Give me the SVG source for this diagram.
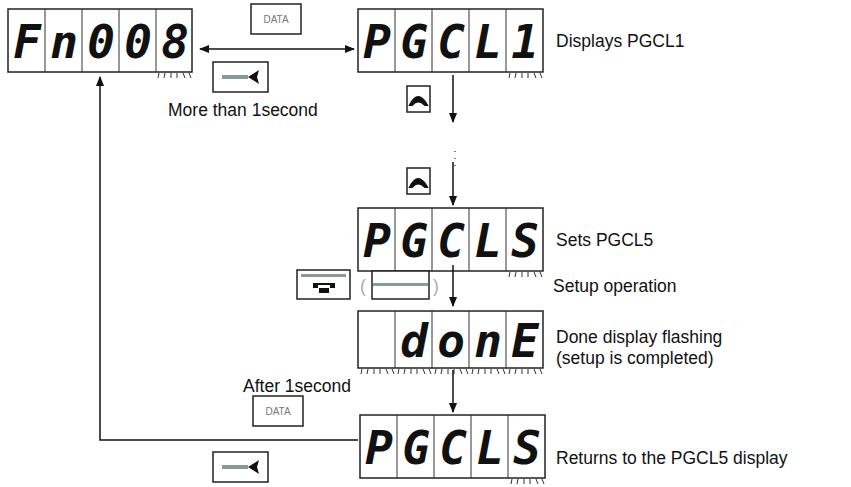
<svg xmlns="http://www.w3.org/2000/svg" width="851" height="487" viewBox="0 0 851 487">
<style>
.cell{fill:#fff;stroke:#222;stroke-width:1.5}
.seg{font-family:"DejaVu Sans Mono",monospace;font-weight:bold;font-style:italic;font-size:46px;fill:#111;text-anchor:middle}
.lbl{font-family:"Liberation Sans",Arial,sans-serif;font-size:17.5px;fill:#111}
.btn{fill:#fff;stroke:#222;stroke-width:1.5}
.dt{font-family:"Liberation Sans",Arial,sans-serif;font-size:10px;fill:#777;text-anchor:middle}
.ln{stroke:#111;stroke-width:1.5;fill:none}
.tk{stroke:#333;stroke-width:1}
</style>
<defs>
<marker id="ah" viewBox="0 0 10 10" refX="9" refY="5" markerWidth="7" markerHeight="7" orient="auto-start-reverse"><path d="M0,1L10,5L0,9z" fill="#111"/></marker>
<g id="ticks"><path class="tk" d="M2,0l-1,5M8,0l-1,5M14,0v5M20,0v5M26,0l2,5M32,0l2,5"/></g>
<g id="ent"><rect class="btn" x="0" y="0" width="55" height="30"/><rect x="9" y="13" width="26" height="4" fill="#8a9a9a"/><path d="M35,15L46,8L44,15L46,22z" fill="#111"/></g>
<g id="up"><rect class="btn" x="0" y="0" width="23" height="26"/><path d="M3,19Q11,3 20,19L18,19Q11,12 5,19z" fill="#111" stroke="#111" stroke-width="2"/></g>
<g id="data"><rect class="btn" x="0" y="0" width="50" height="30"/><text class="dt" x="25" y="19">DATA</text></g>
</defs>
<g id="n_fn008"><rect class="cell" x="8" y="9" width="184" height="63"/><path class="tk" d="M45,9v63M82,9v63M119,9v63M156,9v63"/>
<text class="seg" x="27" y="58">F</text><text class="seg" x="64" y="58">n</text><text class="seg" x="101" y="58">0</text><text class="seg" x="138" y="58">0</text><text class="seg" x="175" y="58">8</text>
<use href="#ticks" x="157" y="73"/></g>
<g id="n_pgcl1"><rect class="cell" x="358" y="9" width="185" height="63"/><path class="tk" d="M395,9v63M432,9v63M469,9v63M506,9v63"/>
<text class="seg" x="377" y="58">P</text><text class="seg" x="414" y="58">G</text><text class="seg" x="451" y="58">C</text><text class="seg" x="488" y="58">L</text><text class="seg" x="525" y="58">1</text>
<use href="#ticks" x="508" y="73"/><text class="lbl" x="556" y="47">Displays PGCL1</text></g>
<g id="n_pgcl5"><rect class="cell" x="358" y="208" width="185" height="63"/><path class="tk" d="M395,208v63M432,208v63M469,208v63M506,208v63"/>
<text class="seg" x="377" y="257">P</text><text class="seg" x="414" y="257">G</text><text class="seg" x="451" y="257">C</text><text class="seg" x="488" y="257">L</text><text class="seg" x="525" y="257">S</text>
<use href="#ticks" x="508" y="272"/><text class="lbl" x="556" y="246">Sets PGCL5</text></g>
<g id="n_done"><rect class="cell" x="358" y="311" width="185" height="57"/><path class="tk" d="M395,311v57M432,311v57M469,311v57M506,311v57"/>
<text class="seg" x="414" y="357">d</text><text class="seg" x="451" y="357">o</text><text class="seg" x="488" y="357">n</text><text class="seg" x="525" y="357">E</text>
<use href="#ticks" x="360" y="369"/><use href="#ticks" x="397" y="369"/><use href="#ticks" x="434" y="369"/><use href="#ticks" x="471" y="369"/><use href="#ticks" x="508" y="369"/>
<text class="lbl" x="556" y="343">Done display flashing</text><text class="lbl" x="556" y="364">(setup is completed)</text></g>
<g id="n_pgcl5b"><rect class="cell" x="360" y="415" width="185" height="63"/><path class="tk" d="M397,415v63M434,415v63M471,415v63M508,415v63"/>
<text class="seg" x="379" y="464">P</text><text class="seg" x="416" y="464">G</text><text class="seg" x="453" y="464">C</text><text class="seg" x="490" y="464">L</text><text class="seg" x="527" y="464">S</text>
<use href="#ticks" x="510" y="479"/><text class="lbl" x="556" y="464">Returns to the PGCL5 display</text></g>
<g id="connectors">
<path class="ln" d="M200,49H354" marker-start="url(#ah)" marker-end="url(#ah)"/>
<path class="ln" d="M453,75V122" marker-end="url(#ah)"/>
<path class="ln" d="M453,162V205" marker-end="url(#ah)"/>
<path class="ln" d="M453,265V306" marker-end="url(#ah)"/>
<path class="ln" d="M453,370V412" marker-end="url(#ah)"/>
<path class="ln" d="M358,440H100V77" marker-end="url(#ah)"/>
<path d="M455,151v1M455,158v1M455,165v1" stroke="#555" stroke-width="1.5"/>
</g>
<g id="buttons">
<use href="#data" x="251" y="4"/>
<use href="#ent" x="213" y="62"/>
<text class="lbl" x="168" y="116">More than 1second</text>
<use href="#up" x="407" y="86"/>
<use href="#up" x="407" y="168"/>
<rect class="btn" x="297" y="270" width="53" height="29"/><rect x="301" y="274" width="45" height="3" fill="#8a9a9a"/>
<path d="M313,283h22v5h-6v5h-10v-5h-6z" fill="#111"/><path d="M318,285h12v3h-12z" fill="#fff"/>
<text class="lbl" x="360" y="292" style="fill:#aaa">(</text>
<rect class="btn" x="372" y="271" width="57" height="28"/><rect x="373" y="283" width="55" height="3" fill="#8a9a9a"/>
<text class="lbl" x="433" y="292" style="fill:#aaa">)</text>
<text class="lbl" x="553" y="292">Setup operation</text>
<text class="lbl" x="243" y="392">After 1second</text>
<use href="#data" x="253" y="396"/>
<use href="#ent" x="213" y="452"/>
</g>
</svg>
